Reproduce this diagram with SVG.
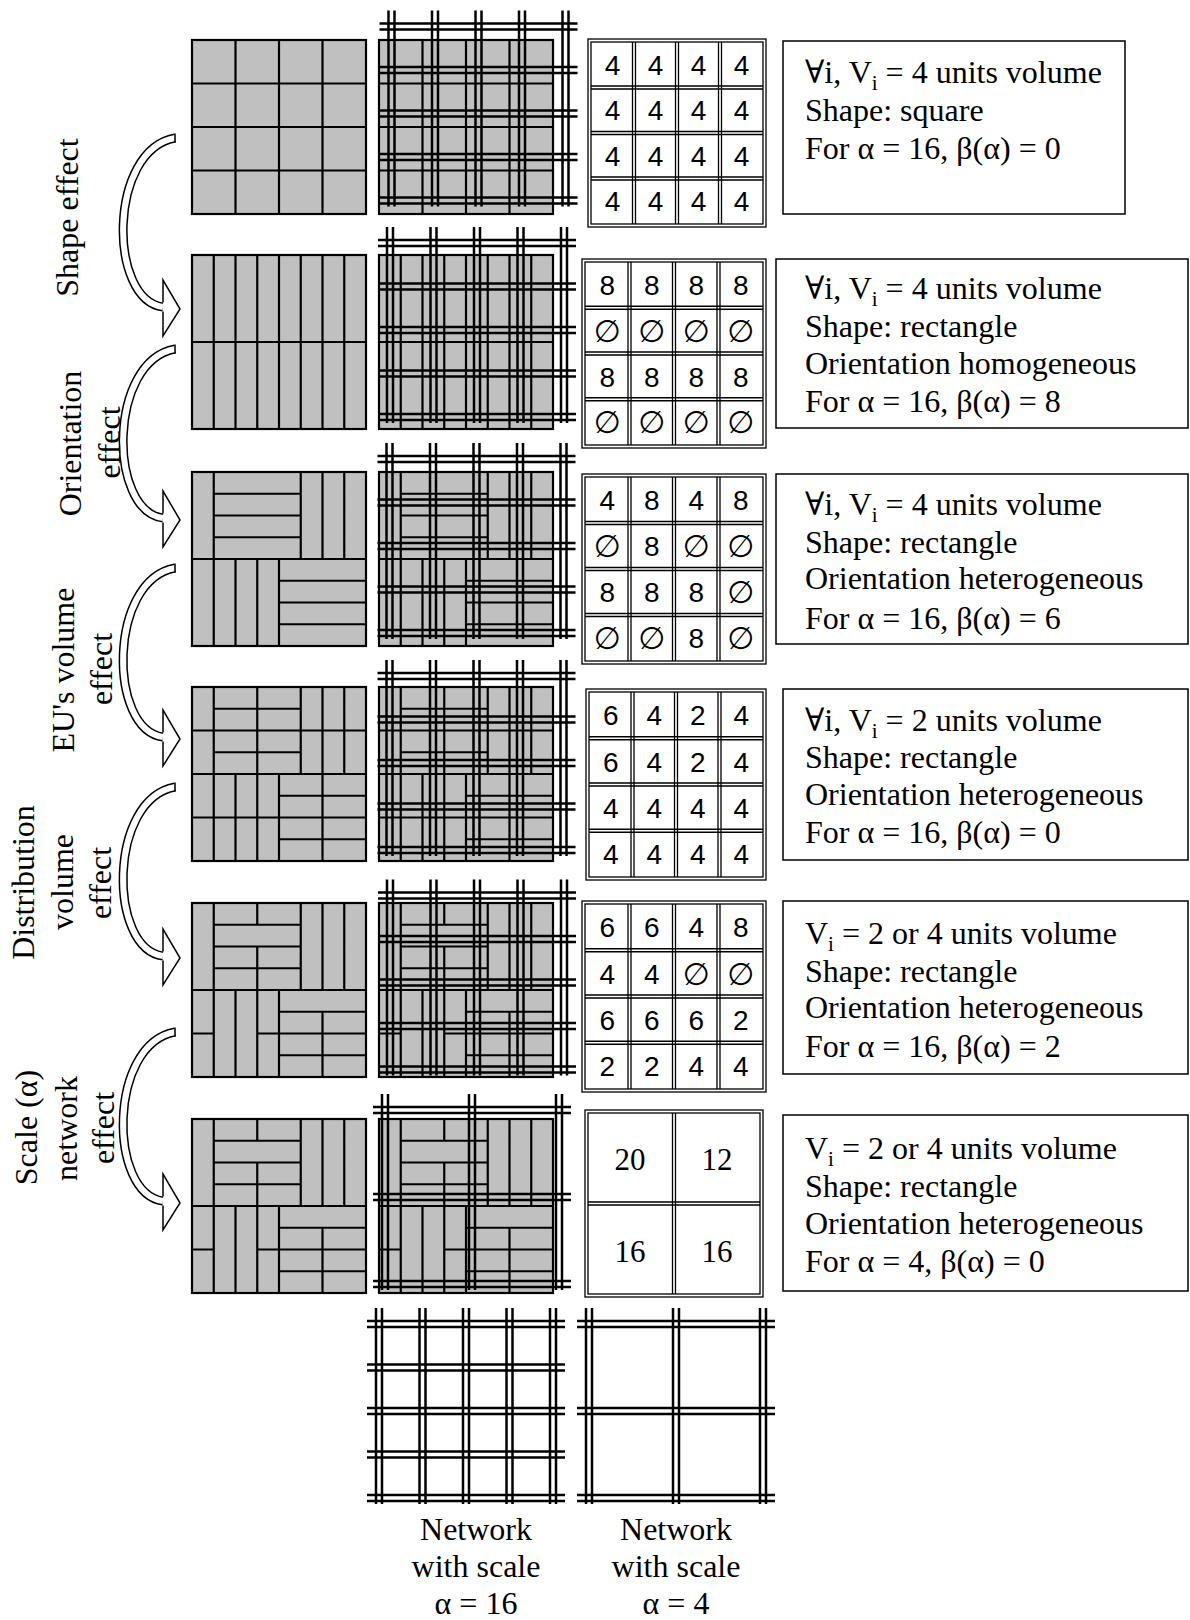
<svg xmlns="http://www.w3.org/2000/svg" width="1190" height="1620" viewBox="0 0 1190 1620">
<style>
.t{font-family:"Liberation Serif","DejaVu Serif",serif;font-size:32px;fill:#000}
.c{text-anchor:middle}
.n{font-family:"Liberation Sans","DejaVu Sans",sans-serif;font-size:28px;text-anchor:middle;fill:#000}
.e{font-family:"DejaVu Sans","Liberation Sans",sans-serif;font-size:31px;text-anchor:middle;fill:#000}
.ns{font-family:"Liberation Serif","DejaVu Serif",serif;font-size:31px;text-anchor:middle;fill:#000}
.tile{fill:#c0c0c0;stroke:#000;stroke-width:2.2}
.tl{fill:none;stroke:#000;stroke-width:2.2}
.net{fill:none;stroke:#000;stroke-width:2.5}
.tb{fill:#fff;stroke:#000;stroke-width:1.3}
.tbl{fill:none;stroke:#000;stroke-width:1.3}
.box{fill:#fff;stroke:#000;stroke-width:1.5}
.ab{fill:none;stroke:#000;stroke-width:9}
.aw{fill:none;stroke:#fff;stroke-width:6}
.ah{fill:#fff;stroke:none}
.ae{fill:none;stroke:#000;stroke-width:1.5}
</style>
<defs>
<g id="p1"><rect class="tile" width="174" height="174"/><path class="tl" d="M43.5,0V174M87,0V174M130.5,0V174M0,43.5H174M0,87H174M0,130.5H174"/></g>
<g id="p2"><rect class="tile" width="174" height="174"/><path class="tl" d="M21.75,0V174M43.5,0V174M65.25,0V174M87,0V174M108.75,0V174M130.5,0V174M152.25,0V174M0,87H174"/></g>
<g id="p3"><rect class="tile" width="174" height="174"/><path class="tl" d="M0,87H174M21.75,0V87M108.75,0V87M130.5,0V87M152.25,0V87M21.75,21.75H108.75M21.75,43.5H108.75M21.75,65.25H108.75M21.75,87V174M43.5,87V174M65.25,87V174M87,87V174M87,108.75H174M87,130.5H174M87,152.25H174"/></g>
<g id="p4"><rect class="tile" width="174" height="174"/><path class="tl" d="M0,87H174M21.75,0V87M108.75,0V87M130.5,0V87M152.25,0V87M21.75,21.75H108.75M21.75,43.5H108.75M21.75,65.25H108.75M21.75,87V174M43.5,87V174M65.25,87V174M87,87V174M87,108.75H174M87,130.5H174M87,152.25H174M0,43.5H174M0,130.5H174M65.25,0V87M130.5,87V174"/></g>
<g id="p5"><rect class="tile" width="174" height="174"/><path class="tl" d="M0,87H174M21.75,0V87M108.75,0V87M130.5,0V87M152.25,0V87M21.75,21.75H108.75M21.75,43.5H108.75M21.75,65.25H108.75M65.25,0V21.75M65.25,43.5V87M21.75,87V174M43.5,87V174M65.25,87V174M87,87V174M87,108.75H174M87,130.5H174M87,152.25H174M130.5,108.75V174M0,130.5H21.75M65.25,130.5H87"/></g>
<g id="net16"><path class="net" d="M-3,-16V180M3,-16V180M40.5,-16V180M46.5,-16V180M84,-16V180M90,-16V180M127.5,-16V180M133.5,-16V180M171,-16V180M177,-16V180M-12,-3H186M-12,3H186M-12,40.5H186M-12,46.5H186M-12,84H186M-12,90H186M-12,127.5H186M-12,133.5H186M-12,171H186M-12,177H186"/></g>
<g id="net4"><path class="net" d="M-3,-16V180M3,-16V180M84,-16V180M90,-16V180M171,-16V180M177,-16V180M-12,-3H186M-12,3H186M-12,84H186M-12,90H186M-12,171H186M-12,177H186"/></g>
<g id="arr">
<path class="ab" d="M175,138C108,150 108,300 163,307"/>
<path class="aw" d="M175,138C108,150 108,300 163,307"/>
<path class="ae" d="M175,133.5V142.5"/>
<polygon class="ah" points="163,280 180,309 163,336"/>
<path class="ae" d="M163,302.5V280L180,309L163,336V311.5"/>
</g>
</defs>

<g id="connectors">
<use href="#arr"/>
<use href="#arr" transform="translate(0,211)"/>
<use href="#arr" transform="translate(0,430)"/>
<use href="#arr" transform="translate(0,649)"/>
<use href="#arr" transform="translate(0,894)"/>
</g>

<g id="labels">
<text class="t c" transform="translate(78,217.5) rotate(-90)">Shape effect</text>
<text class="t c" transform="translate(81,443.5) rotate(-90)">Orientation</text>
<text class="t c" transform="translate(120,442.5) rotate(-90)">effect</text>
<text class="t c" transform="translate(74,670) rotate(-90)">EU's volume</text>
<text class="t c" transform="translate(112,669) rotate(-90)">effect</text>
<text class="t c" transform="translate(34,882.5) rotate(-90)">Distribution</text>
<text class="t c" transform="translate(73,882) rotate(-90)">volume</text>
<text class="t c" transform="translate(111,883) rotate(-90)">effect</text>
<text class="t c" transform="translate(37,1127.5) rotate(-90)">Scale (α)</text>
<text class="t c" transform="translate(77,1128.5) rotate(-90)">network</text>
<text class="t c" transform="translate(114,1128) rotate(-90)">effect</text>
</g>

<g id="row1">
<use href="#p1" x="192" y="40"/>
<use href="#p1" x="379" y="40"/>
<use href="#net16" transform="translate(391.5,26.5)"/>
</g>
<g id="row2">
<use href="#p2" x="192" y="255"/>
<use href="#p2" x="379" y="255"/>
<use href="#net16" transform="translate(390,243)"/>
</g>
<g id="row3">
<use href="#p3" x="192" y="472"/>
<use href="#p3" x="379" y="472"/>
<use href="#net16" transform="translate(389.5,459)"/>
</g>
<g id="row4">
<use href="#p4" x="192" y="687"/>
<use href="#p4" x="379" y="687"/>
<use href="#net16" transform="translate(389.5,676)"/>
</g>
<g id="row5">
<use href="#p5" x="192" y="903"/>
<use href="#p5" x="379" y="903"/>
<use href="#net16" transform="translate(390,895.5)"/>
</g>
<g id="row6">
<use href="#p5" x="192" y="1119"/>
<use href="#p5" x="379" y="1119"/>
<use href="#net4" transform="translate(385,1110)"/>
</g>

<g id="table1">
<rect class="tb" x="588" y="39" width="178" height="188"/>
<rect class="tbl" x="591" y="42" width="172" height="182"/>
<path class="tbl" d="M632.5,42V224M635.5,42V224M675.5,42V224M678.5,42V224M718.5,42V224M721.5,42V224M591,86H763M591,89H763M591,131.5H763M591,134.5H763M591,177H763M591,180H763"/>
<text class="n" x="612.5" y="74.75">4</text><text class="n" x="655.5" y="74.75">4</text><text class="n" x="698.5" y="74.75">4</text><text class="n" x="741.5" y="74.75">4</text>
<text class="n" x="612.5" y="120.25">4</text><text class="n" x="655.5" y="120.25">4</text><text class="n" x="698.5" y="120.25">4</text><text class="n" x="741.5" y="120.25">4</text>
<text class="n" x="612.5" y="165.75">4</text><text class="n" x="655.5" y="165.75">4</text><text class="n" x="698.5" y="165.75">4</text><text class="n" x="741.5" y="165.75">4</text>
<text class="n" x="612.5" y="211.25">4</text><text class="n" x="655.5" y="211.25">4</text><text class="n" x="698.5" y="211.25">4</text><text class="n" x="741.5" y="211.25">4</text>
</g>

<g id="table2">
<rect class="tb" x="582" y="259" width="184" height="189"/>
<rect class="tbl" x="585" y="262" width="178" height="183"/>
<path class="tbl" d="M628,262V445M631,262V445M672.5,262V445M675.5,262V445M717,262V445M720,262V445M585,306.25H763M585,309.25H763M585,352H763M585,355H763M585,397.75H763M585,400.75H763"/>
<text class="n" x="607.25" y="295">8</text><text class="n" x="651.75" y="295">8</text><text class="n" x="696.25" y="295">8</text><text class="n" x="740.75" y="295">8</text>
<text class="e" x="607.25" y="341.5">∅</text><text class="e" x="651.75" y="341.5">∅</text><text class="e" x="696.25" y="341.5">∅</text><text class="e" x="740.75" y="341.5">∅</text>
<text class="n" x="607.25" y="386.5">8</text><text class="n" x="651.75" y="386.5">8</text><text class="n" x="696.25" y="386.5">8</text><text class="n" x="740.75" y="386.5">8</text>
<text class="e" x="607.25" y="433">∅</text><text class="e" x="651.75" y="433">∅</text><text class="e" x="696.25" y="433">∅</text><text class="e" x="740.75" y="433">∅</text>
</g>

<g id="table3">
<rect class="tb" x="582" y="474" width="184" height="190"/>
<rect class="tbl" x="585" y="477" width="178" height="184"/>
<path class="tbl" d="M628,477V661M631,477V661M672.5,477V661M675.5,477V661M717,477V661M720,477V661M585,521.5H763M585,524.5H763M585,567.5H763M585,570.5H763M585,613.5H763M585,616.5H763"/>
<text class="n" x="607.25" y="510">4</text><text class="n" x="651.75" y="510">8</text><text class="n" x="696.25" y="510">4</text><text class="n" x="740.75" y="510">8</text>
<text class="e" x="607.25" y="557">∅</text><text class="n" x="651.75" y="556">8</text><text class="e" x="696.25" y="557">∅</text><text class="e" x="740.75" y="557">∅</text>
<text class="n" x="607.25" y="602">8</text><text class="n" x="651.75" y="602">8</text><text class="n" x="696.25" y="602">8</text><text class="e" x="740.75" y="603">∅</text>
<text class="e" x="607.25" y="649">∅</text><text class="e" x="651.75" y="649">∅</text><text class="n" x="696.25" y="648">8</text><text class="e" x="740.75" y="649">∅</text>
</g>

<g id="table4">
<rect class="tb" x="586" y="689" width="180" height="191"/>
<rect class="tbl" x="589" y="692" width="174" height="185"/>
<path class="tbl" d="M631,692V877M634,692V877M674.5,692V877M677.5,692V877M718,692V877M721,692V877M589,736.75H763M589,739.75H763M589,783H763M589,786H763M589,829.25H763M589,832.25H763"/>
<text class="n" x="610.75" y="725">6</text><text class="n" x="654.25" y="725">4</text><text class="n" x="697.75" y="725">2</text><text class="n" x="741.25" y="725">4</text>
<text class="n" x="610.75" y="771.5">6</text><text class="n" x="654.25" y="771.5">4</text><text class="n" x="697.75" y="771.5">2</text><text class="n" x="741.25" y="771.5">4</text>
<text class="n" x="610.75" y="817.5">4</text><text class="n" x="654.25" y="817.5">4</text><text class="n" x="697.75" y="817.5">4</text><text class="n" x="741.25" y="817.5">4</text>
<text class="n" x="610.75" y="864">4</text><text class="n" x="654.25" y="864">4</text><text class="n" x="697.75" y="864">4</text><text class="n" x="741.25" y="864">4</text>
</g>

<g id="table5">
<rect class="tb" x="582" y="901" width="184" height="191"/>
<rect class="tbl" x="585" y="904" width="178" height="185"/>
<path class="tbl" d="M628,904V1089M631,904V1089M672.5,904V1089M675.5,904V1089M717,904V1089M720,904V1089M585,948.75H763M585,951.75H763M585,995H763M585,998H763M585,1041.25H763M585,1044.25H763"/>
<text class="n" x="607.25" y="937">6</text><text class="n" x="651.75" y="937">6</text><text class="n" x="696.25" y="937">4</text><text class="n" x="740.75" y="937">8</text>
<text class="n" x="607.25" y="983.5">4</text><text class="n" x="651.75" y="983.5">4</text><text class="e" x="696.25" y="984.5">∅</text><text class="e" x="740.75" y="984.5">∅</text>
<text class="n" x="607.25" y="1029.5">6</text><text class="n" x="651.75" y="1029.5">6</text><text class="n" x="696.25" y="1029.5">6</text><text class="n" x="740.75" y="1029.5">2</text>
<text class="n" x="607.25" y="1076">2</text><text class="n" x="651.75" y="1076">2</text><text class="n" x="696.25" y="1076">4</text><text class="n" x="740.75" y="1076">4</text>
</g>

<g id="table6">
<rect class="tb" x="585" y="1110" width="178" height="187"/>
<rect class="tbl" x="588" y="1113" width="172" height="181"/>
<path class="tbl" d="M672.5,1113V1294M675.5,1113V1294M588,1202H760M588,1205H760"/>
<text class="ns" x="630" y="1169.5">20</text><text class="ns" x="717" y="1169.5">12</text>
<text class="ns" x="630" y="1261.5">16</text><text class="ns" x="717" y="1261.5">16</text>
</g>

<g id="box1">
<rect class="box" x="783" y="41" width="342" height="173"/>
<text class="t" x="805" y="83">∀i, V<tspan font-size="21" dy="7">i</tspan><tspan dy="-7"> = 4 units volume</tspan></text>
<text class="t" x="805" y="121">Shape: square</text>
<text class="t" x="805" y="159">For α = 16, β(α) = 0</text>
</g>
<g id="box2">
<rect class="box" x="776" y="259" width="412" height="169"/>
<text class="t" x="805" y="299">∀i, V<tspan font-size="21" dy="7">i</tspan><tspan dy="-7"> = 4 units volume</tspan></text>
<text class="t" x="805" y="337">Shape: rectangle</text>
<text class="t" x="805" y="374">Orientation homogeneous</text>
<text class="t" x="805" y="412">For α = 16, β(α) = 8</text>
</g>
<g id="box3">
<rect class="box" x="776" y="474" width="412" height="170"/>
<text class="t" x="805" y="515">∀i, V<tspan font-size="21" dy="7">i</tspan><tspan dy="-7"> = 4 units volume</tspan></text>
<text class="t" x="805" y="553">Shape: rectangle</text>
<text class="t" x="805" y="589">Orientation heterogeneous</text>
<text class="t" x="805" y="628.5">For α = 16, β(α) = 6</text>
</g>
<g id="box4">
<rect class="box" x="783" y="689" width="405" height="171"/>
<text class="t" x="805" y="731">∀i, V<tspan font-size="21" dy="7">i</tspan><tspan dy="-7"> = 2 units volume</tspan></text>
<text class="t" x="805" y="768">Shape: rectangle</text>
<text class="t" x="805" y="805">Orientation heterogeneous</text>
<text class="t" x="805" y="843">For α = 16, β(α) = 0</text>
</g>
<g id="box5">
<rect class="box" x="783" y="901" width="405" height="173"/>
<text class="t" x="805" y="943.5">V<tspan font-size="21" dy="7">i</tspan><tspan dy="-7"> = 2 or 4 units volume</tspan></text>
<text class="t" x="805" y="981.5">Shape: rectangle</text>
<text class="t" x="805" y="1018">Orientation heterogeneous</text>
<text class="t" x="805" y="1057">For α = 16, β(α) = 2</text>
</g>
<g id="box6">
<rect class="box" x="783" y="1115" width="405" height="176"/>
<text class="t" x="805" y="1159">V<tspan font-size="21" dy="7">i</tspan><tspan dy="-7"> = 2 or 4 units volume</tspan></text>
<text class="t" x="805" y="1196.5">Shape: rectangle</text>
<text class="t" x="805" y="1233.5">Orientation heterogeneous</text>
<text class="t" x="805" y="1272">For α = 4, β(α) = 0</text>
</g>

<g id="network16">
<use href="#net16" transform="translate(379,1324)"/>
<text class="t c" x="476" y="1540">Network</text>
<text class="t c" x="476" y="1577">with scale</text>
<text class="t c" x="476" y="1614">α = 16</text>
</g>
<g id="network4">
<use href="#net4" transform="translate(589,1324)"/>
<text class="t c" x="676" y="1540">Network</text>
<text class="t c" x="676" y="1577">with scale</text>
<text class="t c" x="676" y="1614">α = 4</text>
</g>
</svg>
